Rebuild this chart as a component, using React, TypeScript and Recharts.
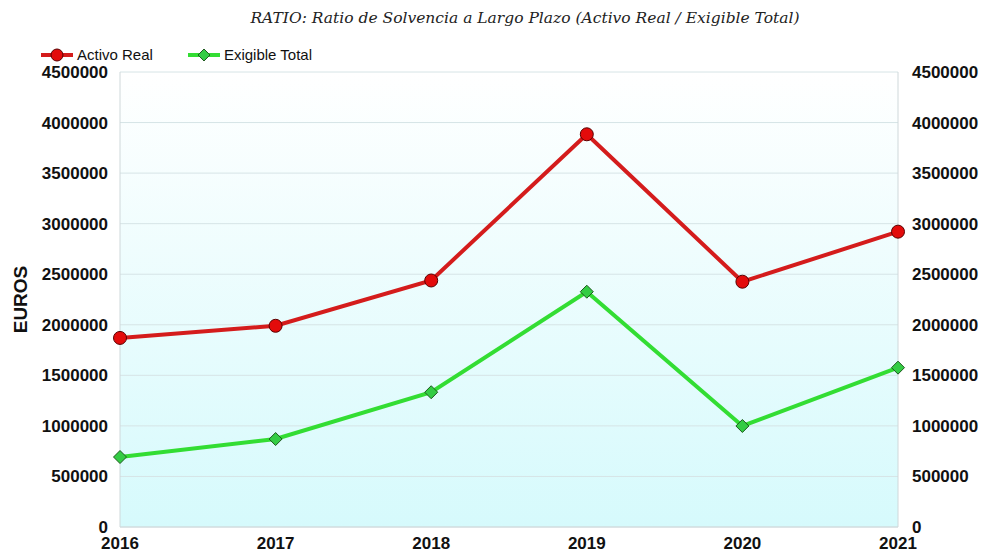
import React from "react";
import {
  LineChart,
  Line,
  XAxis,
  YAxis,
  CartesianGrid,
} from "recharts";

// Values (euros).
const YEARS = ["2016", "2017", "2018", "2019", "2020", "2021"];
const ACTIVO_REAL = [1870000, 1990000, 2438000, 3884000, 2426000, 2921000];
const EXIGIBLE_TOTAL = [692000, 870000, 1333000, 2327000, 999000, 1576000];
const Y_TICKS = [0, 500000, 1000000, 1500000, 2000000, 2500000, 3000000, 3500000, 4000000, 4500000];

const TITLE = "RATIO: Ratio de Solvencia a Largo Plazo (Activo Real / Exigible Total)";

const RED = "#d41c1c";
const RED_DOT = "#e30b0b";
const RED_EDGE = "#5a0000";
const GREEN = "#33dd33";
const GREEN_DOT = "#33cc44";
const GREEN_EDGE = "#1e5a1e";
const GRID = "#d6e4e6";
const FRAME = "#cfd8da";

const TICK_STYLE = {
  fill: "#111",
  fontSize: 17,
  fontWeight: 700,
  fontFamily: "'Liberation Sans', Arial, sans-serif",
};

const data = YEARS.map((year, i) => ({
  year,
  activo: ACTIVO_REAL[i],
  exigible: EXIGIBLE_TOTAL[i],
}));

function Diamond(props: any) {
  const { cx, cy, index } = props;
  if (cx == null || cy == null) return <g key={index} />;
  const s = 6.5;
  return (
    <path
      key={index}
      d={`M${cx},${cy - s} L${cx + s},${cy} L${cx},${cy + s} L${cx - s},${cy} Z`}
      fill={GREEN_DOT}
      stroke={GREEN_EDGE}
      strokeWidth={1}
    />
  );
}

function EurosLabel(props: any) {
  const vb = props.viewBox || {};
  const cy = (vb.y ?? 0) + (vb.height ?? 0) / 2;
  return (
    <text
      x={20}
      y={cy}
      transform={`rotate(-90, 20, ${cy})`}
      textAnchor="middle"
      dominantBaseline="central"
      fontFamily="'Liberation Sans', Arial, sans-serif"
      fontWeight={700}
      fontSize={19}
      fill="#111"
    >
      EUROS
    </text>
  );
}

function LegendItem({ label, color, marker }: { label: string; color: string; marker: "circle" | "diamond" }) {
  return (
    <span style={{ display: "inline-flex", alignItems: "center", marginRight: 34 }}>
      <svg width={34} height={16} style={{ marginRight: 3 }}>
        <line x1={1} y1={8} x2={33} y2={8} stroke={color} strokeWidth={4} />
        {marker === "circle" ? (
          <circle cx={17} cy={8} r={6} fill={RED_DOT} stroke={RED_EDGE} strokeWidth={1} />
        ) : (
          <path d="M17,2 L23,8 L17,14 L11,8 Z" fill={GREEN_DOT} stroke={GREEN_EDGE} strokeWidth={1} />
        )}
      </svg>
      <span>{label}</span>
    </span>
  );
}

export default function App() {
  return (
    <div
      style={{
        position: "absolute",
        top: 0,
        left: 0,
        width: 981,
        height: 556,
        overflow: "hidden",
        background: "#fff",
      }}
    >
      <div
        style={{
          position: "absolute",
          top: 9,
          left: 0,
          width: 1050,
          textAlign: "center",
          fontFamily: "'DejaVu Serif', serif",
          fontStyle: "italic",
          fontSize: 15.5,
          lineHeight: "18px",
          color: "#222",
        }}
      >
        {TITLE}
      </div>
      <div
        style={{
          position: "absolute",
          top: 46,
          left: 40,
          display: "flex",
          fontFamily: "'Liberation Sans', Arial, sans-serif",
          fontSize: 15,
          color: "#111",
        }}
      >
        <LegendItem label="Activo Real" color={RED} marker="circle" />
        <LegendItem label="Exigible Total" color={GREEN} marker="diamond" />
      </div>
      <LineChart
        width={981}
        height={556}
        data={data}
        margin={{ top: 72, right: 0, bottom: 0, left: 0 }}
      >
        <defs>
          <linearGradient id="plotBg" x1="0" y1="0" x2="0" y2="1">
            <stop offset="0%" stopColor="#ffffff" />
            <stop offset="100%" stopColor="#d6fafc" />
          </linearGradient>
        </defs>
        <CartesianGrid
          yAxisId="left"
          vertical={false}
          stroke={GRID}
          fill="url(#plotBg)"
          fillOpacity={1}
        />
        <XAxis
          dataKey="year"
          height={29}
          tickSize={0}
          tickMargin={10}
          axisLine={{ stroke: FRAME }}
          tick={TICK_STYLE}
          interval={0}
        />
        <YAxis
          yAxisId="left"
          width={120}
          domain={[0, 4500000]}
          ticks={Y_TICKS}
          tickFormatter={(v: number) => String(v)}
          tickSize={0}
          tickMargin={12}
          axisLine={{ stroke: FRAME }}
          tick={TICK_STYLE}
          interval={0}
          label={<EurosLabel />}
        />
        <YAxis
          yAxisId="right"
          orientation="right"
          width={83}
          domain={[0, 4500000]}
          ticks={Y_TICKS}
          tickFormatter={(v: number) => String(v)}
          tickSize={0}
          tickMargin={14}
          axisLine={{ stroke: FRAME }}
          tick={{ ...TICK_STYLE, textAnchor: "start" }}
          interval={0}
        />
        <Line
          yAxisId="left"
          type="linear"
          dataKey="activo"
          name="Activo Real"
          stroke={RED}
          strokeWidth={4}
          dot={{ r: 6.5, fill: RED_DOT, stroke: RED_EDGE, strokeWidth: 1 }}
          activeDot={false}
          isAnimationActive={false}
        />
        <Line
          yAxisId="right"
          type="linear"
          dataKey="exigible"
          name="Exigible Total"
          stroke={GREEN}
          strokeWidth={4}
          dot={<Diamond />}
          activeDot={false}
          isAnimationActive={false}
        />
      </LineChart>
    </div>
  );
}
